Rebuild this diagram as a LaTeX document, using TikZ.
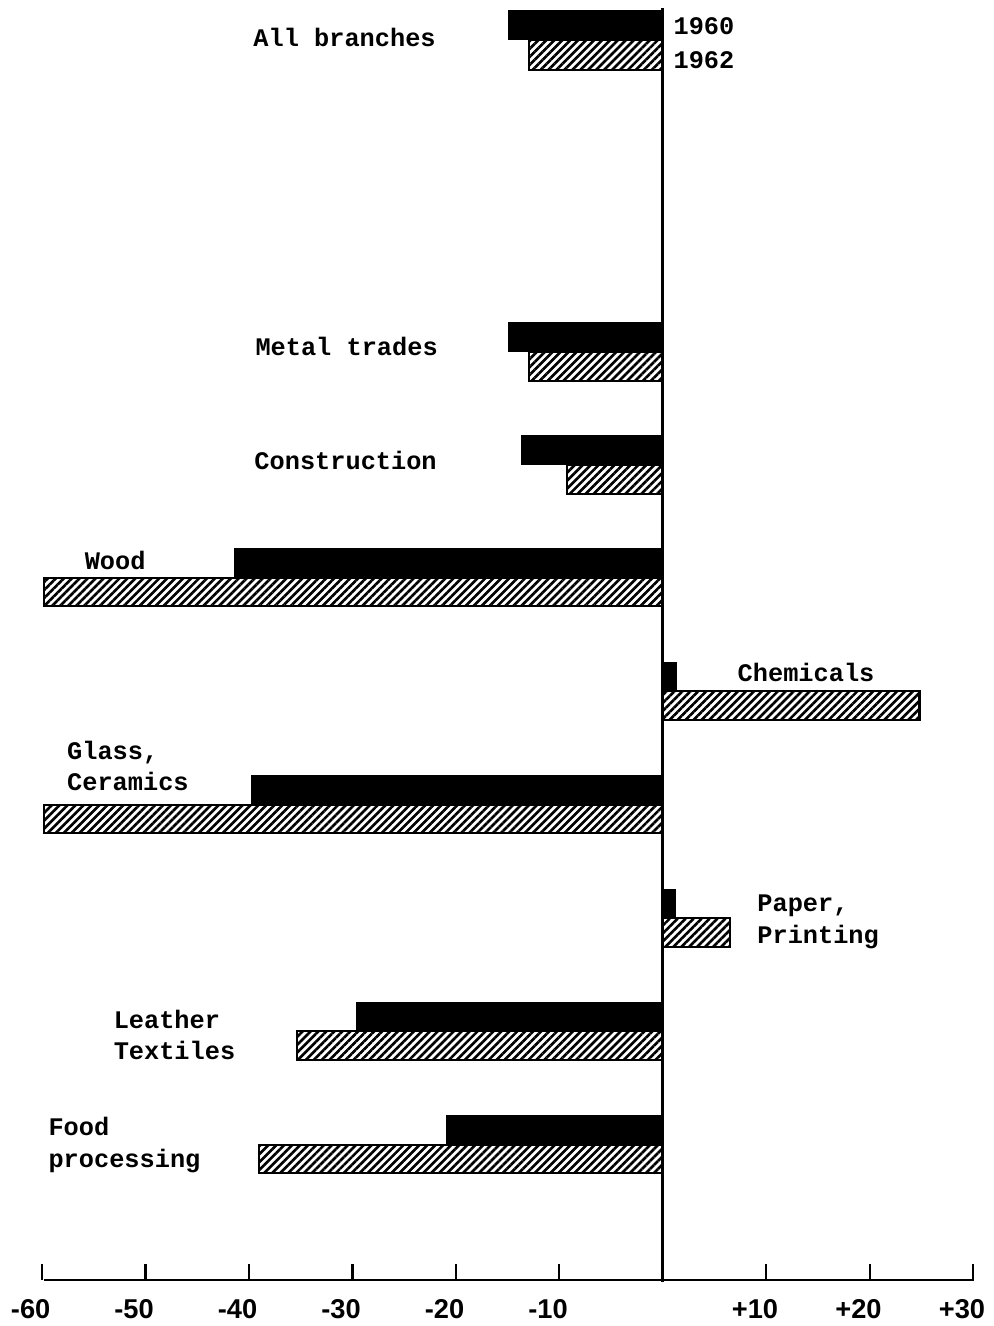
\documentclass[tikz,border=0pt]{standalone}
\usepackage{fontspec}
\usetikzlibrary{patterns.meta, positioning}
\newfontfamily\barfont{Liberation Mono}
\newfontfamily\tickfont{Liberation Sans}

\begin{document}
\begin{tikzpicture}[
    x=0.207cm, y=-0.02cm,
    bar60/.style={fill=black},
    bar62/.style={draw=black,line width=1.2pt,
                  pattern={Lines[angle=45,distance=3.2pt,line width=1.5pt]}},
    lbl/.style={anchor=west,align=left,inner sep=0pt,
                font=\barfont\bfseries\fontsize{14.4}{18}\selectfont},
    tick/.style={font=\tickfont\bfseries\fontsize{15.5}{17}\selectfont,inner sep=0pt}
]
  \useasboundingbox (-64.06,0) rectangle (31.98,1326);

  % All branches
  \fill[bar60] (-15,10) rectangle (0,40);
  \draw[bar62] (-12.9,40) rectangle (0,70);
  \node[lbl] (all) at (-39.6,37) {All branches};
  \node[lbl] (y60) at (1.0,26) {1960};
  \node[lbl] (y62) at (1.0,60) {1962};

  % Metal trades
  \fill[bar60] (-15,322) rectangle (0,352);
  \draw[bar62] (-12.9,352) rectangle (0,381);
  \node[lbl] (metal) at (-39.4,346) {Metal trades};

  % Construction
  \fill[bar60] (-13.7,435) rectangle (0,465);
  \draw[bar62] (-9.3,465) rectangle (0,494);
  \node[lbl] (constr) at (-39.5,460) {Construction};

  % Wood
  \fill[bar60] (-41.4,548) rectangle (0,578);
  \draw[bar62] (-59.8,578) rectangle (0,606);
  \node[lbl] (wood) at (-55.9,560) {Wood};

  % Chemicals
  \fill[bar60] (0,662) rectangle (1.4,691);
  \draw[bar62] (0,691) rectangle (24.8,720);
  \node[lbl] (chem) at (7.2,672) {Chemicals};

  % Glass, Ceramics
  \fill[bar60] (-39.8,775) rectangle (0,805);
  \draw[bar62] (-59.8,805) rectangle (0,833);
  \node[lbl] (glass) at (-57.6,766) {Glass,\\Ceramics};

  % Paper, Printing
  \fill[bar60] (0,889) rectangle (1.3,918);
  \draw[bar62] (0,918) rectangle (6.5,947);
  \node[lbl] (paper) at (9.1,922) {Paper,\\Printing};

  % Leather Textiles
  \fill[bar60] (-29.7,1002) rectangle (0,1031);
  \draw[bar62] (-35.4,1031) rectangle (0,1060);
  \node[lbl] (leather) at (-53.1,1035) {Leather\\Textiles};

  % Food processing
  \fill[bar60] (-21,1115) rectangle (0,1145);
  \draw[bar62] (-39,1145) rectangle (0,1173);
  \node[lbl] (food) at (-59.4,1145) {Food\\processing};

  % Axis
  \coordinate (top) at (0,8);
  \coordinate (bot) at (0,1282);
  \coordinate (axl) at (-59.8,1280);
  \coordinate (axr) at (30.1,1280);
  \draw[line width=1.6pt] (top) -- (bot);
  \draw[line width=1.2pt] (axl) -- (axr);
  \foreach \v in {-60,-50,...,30}
    \draw[line width=1.2pt] (\v,1280) -- (\v,1264);
  \foreach \v/\t in {-60/-60,-50/-50,-40/-40,-30/-30,-20/-20,-10/-10,10/+10,20/+20,30/+30}
    \node[tick] (t\v) at (\v-1.1,1309) {\t};
\end{tikzpicture}
\end{document}
